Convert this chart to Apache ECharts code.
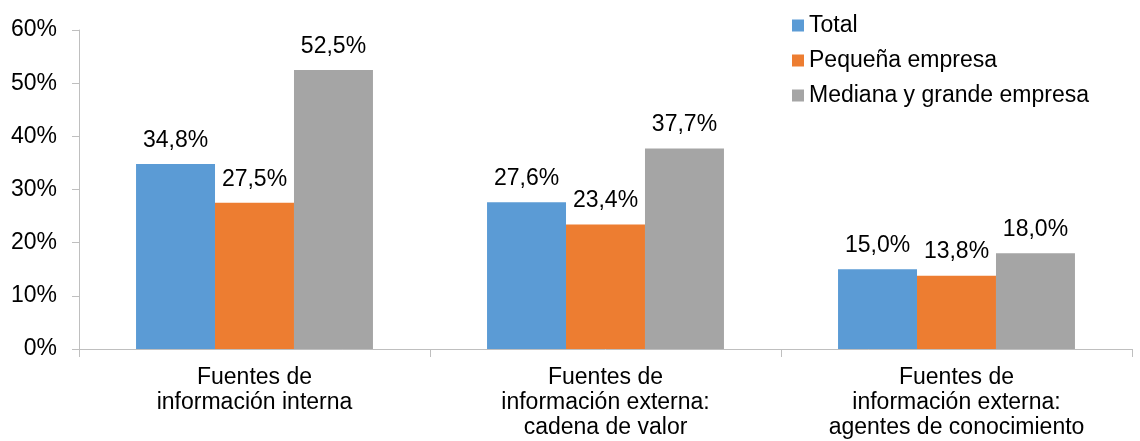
<!DOCTYPE html>
<html>
<head>
<meta charset="utf-8">
<script src="https://cdn.jsdelivr.net/npm/echarts@6/dist/echarts.min.js"></script>
<style>
html,body{margin:0;padding:0;background:#fff;}
#c{width:1140px;height:441px;}
</style>
</head>
<body>
<div id="c"></div>
<script>
var categories = [
  "Fuentes de\ninformación interna",
  "Fuentes de\ninformación externa:\ncadena de valor",
  "Fuentes de\ninformación externa:\nagentes de conocimiento"
];
var seriesNames = ["Total", "Pequeña empresa", "Mediana y grande empresa"];
var total = [34.8, 27.6, 15.0];
var pequena = [27.5, 23.4, 13.8];
var mediana = [52.5, 37.7, 18.0];
var colors = ["#5B9BD5", "#ED7D31", "#A5A5A5"];
var FONT = "'Liberation Sans', Arial, sans-serif";
var FS = 23;

function fmt(v){ return v.toFixed(1).replace('.', ',') + '%'; }

function mk(name, data, color){
  return {
    name: name, type: 'bar', data: data,
    barGap: '0%', barCategoryGap: '32.5%',
    itemStyle: { color: color },
    label: { show: true, position: 'top', distance: 12, color: '#000',
      fontFamily: FONT, fontSize: FS,
      formatter: function(p){ return fmt(p.value); } }
  };
}

var chart = echarts.init(document.getElementById('c'), null, {renderer:'canvas'});
chart.setOption({
  animation: false,
  color: colors,
  grid: { left: 79, right: 8, top: 30, bottom: 92 },
  legend: {
    orient: 'vertical', left: 787, top: 9,
    itemWidth: 12, itemHeight: 12, itemGap: 12, icon: 'rect',
    textStyle: { fontFamily: FONT, fontSize: FS, color: '#000' },
    data: seriesNames
  },
  xAxis: {
    type: 'category', data: categories,
    axisLine: { show: true, lineStyle: { color: '#BFBFBF', width: 1 } },
    axisTick: { show: true, length: 8, alignWithLabel: false, lineStyle: { color: '#BFBFBF' } },
    axisLabel: { fontFamily: FONT, fontSize: FS, color: '#000', lineHeight: 25, margin: 16, interval: 0 },
    splitLine: { show: false }
  },
  yAxis: {
    type: 'value', min: 0, max: 60, interval: 10,
    axisLine: { show: true, lineStyle: { color: '#BFBFBF', width: 1 } },
    axisTick: { show: true, length: 7, lineStyle: { color: '#BFBFBF' } },
    axisLabel: { fontFamily: FONT, fontSize: FS, color: '#000', margin: 22, formatter: '{value}%' },
    splitLine: { show: false }
  },
  series: [
    mk(seriesNames[0], total, colors[0]),
    mk(seriesNames[1], pequena, colors[1]),
    mk(seriesNames[2], mediana, colors[2])
  ]
});
</script>
</body>
</html>
